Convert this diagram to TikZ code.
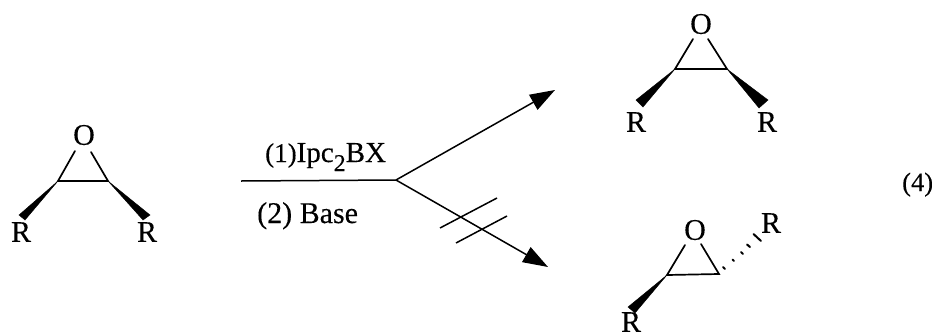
\documentclass[tikz,border=0pt]{standalone}
\usepackage{fontspec}
\setmainfont{Liberation Serif}[FakeBold=0.25]
\usetikzlibrary{arrows.meta}
\tikzset{
 atom/.style={inner sep=0pt,font=\fontsize{30}{30}\selectfont},
 lbl/.style={inner sep=0pt,anchor=base west,font=\fontsize{30}{30}\selectfont},
 bond/.style={line width=1.7pt,line cap=round},
 rxn/.style={line width=1.5pt},
 arrowline/.style={line width=1.5pt,-{Triangle[length=25pt,width=17pt]}},
 wedge/.style={fill=black,draw=black,line width=.4pt},
 hashb/.style={line width=2pt,line cap=round}
}
\begin{document}
\begin{tikzpicture}[x=1pt,y=-1pt]
\useasboundingbox (0,0) rectangle (936,335);
% left epoxide
\node[atom] (O1) at (84,135) {O};
\node[atom] (R1a) at (21,232) {R};
\node[atom] (R1b) at (147,232) {R};
\coordinate (C1a) at (58,181);
\coordinate (C1b) at (108,181);
\coordinate (O1a) at (75,151);
\coordinate (O1b) at (91,152);
\draw[bond] (O1a) -- (C1a) -- (C1b) -- (O1b);
\coordinate (W1a) at (19,215); \coordinate (W1b) at (25,220);
\coordinate (W1c) at (143,220); \coordinate (W1d) at (150,215);
\fill[wedge] (C1a) -- (W1a) -- (W1b) -- cycle;
\fill[wedge] (C1b) -- (W1c) -- (W1d) -- cycle;
% top right epoxide
\node[atom] (O2) at (701,24) {O};
\node[atom] (R2a) at (636,122) {R};
\node[atom] (R2b) at (767,122) {R};
\coordinate (C2a) at (675,69);
\coordinate (C2b) at (727,69);
\coordinate (O2a) at (693,39);
\coordinate (O2b) at (708,39);
\draw[bond] (O2a) -- (C2a) -- (C2b) -- (O2b);
\coordinate (W2a) at (636,100); \coordinate (W2b) at (643,107);
\coordinate (W2c) at (759,108); \coordinate (W2d) at (768,100);
\fill[wedge] (C2a) -- (W2a) -- (W2b) -- cycle;
\fill[wedge] (C2b) -- (W2c) -- (W2d) -- cycle;
% bottom right epoxide
\node[atom] (O3) at (695,230) {O};
\node[atom] (R3a) at (631,322) {R};
\node[atom] (R3b) at (771,223) {R};
\coordinate (C3a) at (667,275);
\coordinate (C3b) at (719,274);
\coordinate (O3a) at (685,245);
\coordinate (O3b) at (701,244);
\draw[bond] (O3a) -- (C3a) -- (C3b) -- (O3b);
\coordinate (W3a) at (628,307); \coordinate (W3b) at (635,313);
\fill[wedge] (C3a) -- (W3a) -- (W3b) -- cycle;
\coordinate (D1a) at (723,267); \coordinate (D1b) at (725,269);
\coordinate (D2a) at (732.5,259.5); \coordinate (D2b) at (734,261);
\coordinate (D3a) at (741,252); \coordinate (D3b) at (743,254);
\coordinate (D4a) at (747,244.5); \coordinate (D4b) at (750,247);
\coordinate (D5a) at (753.5,234) ; \coordinate (D5b) at (761,241);
\draw[hashb] (D1a) -- (D1b);
\draw[hashb] (D2a) -- (D2b);
\draw[hashb] (D3a) -- (D3b);
\draw[hashb] (D4a) -- (D4b);
\draw[hashb] (D5a) -- (D5b);
% reaction arrow
\coordinate (Start) at (241,181);
\coordinate (Fork) at (396,180);
\coordinate (Up) at (555,90);
\coordinate (Down) at (548,267);
\draw[rxn] (Start) -- (Fork);
\draw[arrowline] (Fork) -- (Up);
\draw[arrowline] (Fork) -- (Down);
\coordinate (S1a) at (440,228); \coordinate (S1b) at (497,198);
\coordinate (S2a) at (456,243); \coordinate (S2b) at (507,216);
\draw[rxn] (S1a) -- (S1b);
\draw[rxn] (S2a) -- (S2b);
\node[lbl] (L1) at (265,162) {\fontsize{27}{27}\selectfont(1)\fontsize{29}{29}\selectfont Ipc\raisebox{-9pt}{\fontsize{24}{24}\selectfont 2}BX};
\node[lbl] (L2) at (257,223) {(2) Base};
\node[lbl] (L3) at (902,191) {\fontsize{26.5}{26.5}\selectfont (4)};
\end{tikzpicture}
\end{document}
